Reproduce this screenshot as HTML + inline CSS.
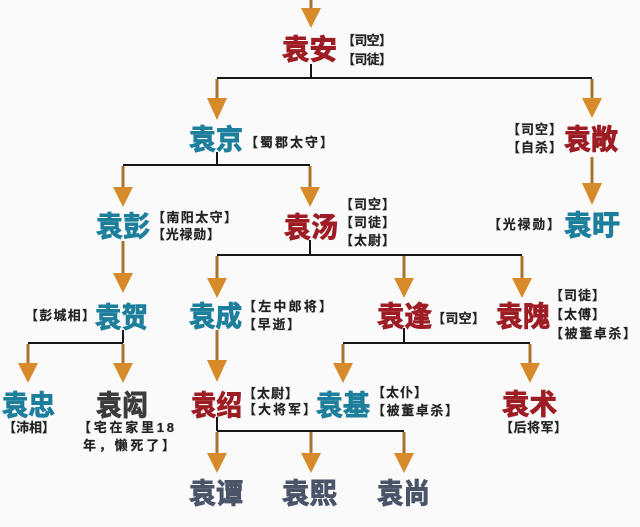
<!DOCTYPE html>
<html><head><meta charset="utf-8"><style>
html,body{margin:0;padding:0;background:#fafafa;}
svg{display:block;}
.n{font-family:"Liberation Sans","Noto Sans CJK SC",sans-serif;font-weight:bold;font-size:28px;stroke-width:0.9px;}
.r{fill:#9e1c24;stroke:#9e1c24;}
.t{fill:#1d7f9c;stroke:#1d7f9c;}
.g{fill:#3c3c3c;stroke:#3c3c3c;}
.s{fill:#4a5468;stroke:#4a5468;}
.a{font-family:"Liberation Sans","Noto Sans CJK SC",sans-serif;font-weight:bold;font-size:13px;fill:#222;stroke:#222;stroke-width:0.2px;}
.k{stroke:#151515;stroke-width:2;fill:none;}
.sh{stroke:#a8742c;stroke-width:3;fill:none;}
.hd{fill:#d68a2a;}
</style></head><body>
<svg width="640" height="527" viewBox="0 0 640 527" xmlns="http://www.w3.org/2000/svg">
<rect width="640" height="527" fill="#fafafa"/>

<!-- black connectors -->
<path class="k" d="M311 64V78M217 78H592"/>
<path class="k" d="M217 152V165M123 165H310"/>
<path class="k" d="M310 240V255M217 255H522"/>
<path class="k" d="M123 330V343M28 343H123"/>
<path class="k" d="M404 328V343M343 343H530"/>
<path class="k" d="M217 417V431M217 431H404"/>

<!-- arrow shafts -->
<path class="sh" d="M311 0V12"/>
<path class="sh" d="M217 79V101M592 79V101"/>
<path class="sh" d="M123 166V190M310 166V190"/>
<path class="sh" d="M592 157V186"/>
<path class="sh" d="M123 241V276"/>
<path class="sh" d="M217 256V281M404 256V281M522 256V281"/>
<path class="sh" d="M28 344V366M123 344V366"/>
<path class="sh" d="M217 330V363"/>
<path class="sh" d="M343 344V366M530 344V366"/>
<path class="sh" d="M217 432V456M311 432V456M404 432V456"/>

<!-- arrow heads -->
<g class="hd">
<path d="M301 8H321L311 28Z"/>
<path d="M207 98H227L217 120Z"/>
<path d="M582 98H602L592 118Z"/>
<path d="M113 187H133L123 207Z"/>
<path d="M300 187H320L310 207Z"/>
<path d="M582 183H602L592 205Z"/>
<path d="M113 273H133L123 293Z"/>
<path d="M207 278H227L217 298Z"/>
<path d="M394 278H414L404 298Z"/>
<path d="M512 278H532L522 298Z"/>
<path d="M18 363H38L28 383Z"/>
<path d="M113 363H133L123 383Z"/>
<path d="M207 360H227L217 382Z"/>
<path d="M333 363H353L343 383Z"/>
<path d="M520 363H540L530 383Z"/>
<path d="M207 453H227L217 473Z"/>
<path d="M301 453H321L311 473Z"/>
<path d="M394 453H414L404 473Z"/>
</g>

<!-- names -->
<text class="n r" x="282" y="59" textLength="55" lengthAdjust="spacingAndGlyphs">袁安</text>
<text class="n t" x="189" y="149" textLength="54" lengthAdjust="spacingAndGlyphs">袁京</text>
<text class="n r" x="564" y="149" textLength="54" lengthAdjust="spacingAndGlyphs">袁敞</text>
<text class="n t" x="96" y="236" textLength="54" lengthAdjust="spacingAndGlyphs">袁彭</text>
<text class="n r" x="284" y="237" textLength="54" lengthAdjust="spacingAndGlyphs">袁汤</text>
<text class="n t" x="564" y="235" textLength="56" lengthAdjust="spacingAndGlyphs">袁旴</text>
<text class="n t" x="95" y="327" textLength="53" lengthAdjust="spacingAndGlyphs">袁贺</text>
<text class="n t" x="189" y="326" textLength="53" lengthAdjust="spacingAndGlyphs">袁成</text>
<text class="n r" x="377" y="326" textLength="55" lengthAdjust="spacingAndGlyphs">袁逢</text>
<text class="n r" x="496" y="326" textLength="54" lengthAdjust="spacingAndGlyphs">袁隗</text>
<text class="n t" x="2" y="415" textLength="53" lengthAdjust="spacingAndGlyphs">袁忠</text>
<text class="n g" x="96" y="415" textLength="52" lengthAdjust="spacingAndGlyphs">袁闳</text>
<text class="n r" x="191" y="415" textLength="51" lengthAdjust="spacingAndGlyphs">袁绍</text>
<text class="n t" x="316" y="415" textLength="54" lengthAdjust="spacingAndGlyphs">袁基</text>
<text class="n r" x="502" y="414" textLength="55" lengthAdjust="spacingAndGlyphs">袁术</text>
<text class="n s" x="189" y="503" textLength="54" lengthAdjust="spacingAndGlyphs">袁谭</text>
<text class="n s" x="282" y="503" textLength="55" lengthAdjust="spacingAndGlyphs">袁熙</text>
<text class="n s" x="377" y="503" textLength="53" lengthAdjust="spacingAndGlyphs">袁尚</text>

<!-- annotations -->
<text class="a" x="342" y="45" textLength="50" lengthAdjust="spacing">【司空】</text>
<text class="a" x="342" y="64" textLength="50" lengthAdjust="spacing">【司徒】</text>
<text class="a" x="245" y="147" textLength="88" lengthAdjust="spacing">【蜀郡太守】</text>
<text class="a" x="507" y="134" textLength="55" lengthAdjust="spacing">【司空】</text>
<text class="a" x="507" y="152" textLength="55" lengthAdjust="spacing">【自杀】</text>
<text class="a" x="152" y="222" textLength="85" lengthAdjust="spacing">【南阳太守】</text>
<text class="a" x="152" y="239" textLength="68" lengthAdjust="spacing">【光禄勋】</text>
<text class="a" x="340" y="209" textLength="55" lengthAdjust="spacing">【司空】</text>
<text class="a" x="340" y="227" textLength="55" lengthAdjust="spacing">【司徒】</text>
<text class="a" x="340" y="245" textLength="55" lengthAdjust="spacing">【太尉】</text>
<text class="a" x="488" y="229" textLength="72" lengthAdjust="spacing">【光禄勋】</text>
<text class="a" x="25" y="320" textLength="70" lengthAdjust="spacing">【彭城相】</text>
<text class="a" x="243" y="311" textLength="89" lengthAdjust="spacing">【左中郎将】</text>
<text class="a" x="243" y="329" textLength="57" lengthAdjust="spacing">【早逝】</text>
<text class="a" x="432" y="323" textLength="53" lengthAdjust="spacing">【司空】</text>
<text class="a" x="550" y="300" textLength="55" lengthAdjust="spacing">【司徒】</text>
<text class="a" x="550" y="319" textLength="55" lengthAdjust="spacing">【太傅】</text>
<text class="a" x="550" y="338" textLength="86" lengthAdjust="spacing">【被董卓杀】</text>
<text class="a" x="3" y="432" textLength="52" lengthAdjust="spacing">【沛相】</text>
<text class="a" x="78" y="432" textLength="96" lengthAdjust="spacing">【宅在家里18</text>
<text class="a" x="83" y="450" textLength="92" lengthAdjust="spacing">年，懒死了】</text>
<text class="a" x="243" y="398" textLength="55" lengthAdjust="spacing">【太尉】</text>
<text class="a" x="243" y="414" textLength="73" lengthAdjust="spacing">【大将军】</text>
<text class="a" x="372" y="397" textLength="55" lengthAdjust="spacing">【太仆】</text>
<text class="a" x="372" y="415" textLength="86" lengthAdjust="spacing">【被董卓杀】</text>
<text class="a" x="500" y="432" textLength="67" lengthAdjust="spacing">【后将军】</text>
</svg>
</body></html>
